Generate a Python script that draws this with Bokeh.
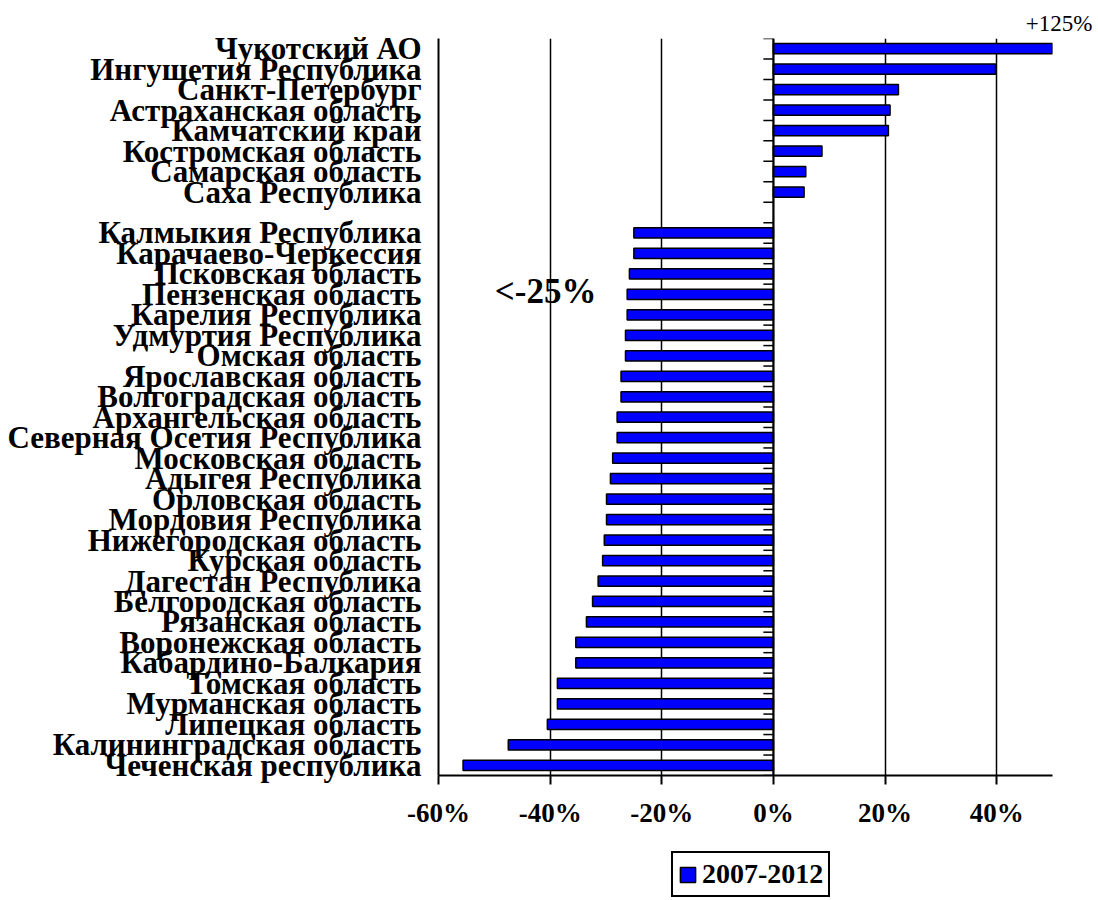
import numpy as np
from bokeh.plotting import figure
from bokeh.layouts import column
from bokeh.models import (ColumnDataSource, FixedTicker, Span, Label, Legend,
                          LegendItem, CustomJSTickFormatter)
from bokeh.embed import file_html
from bokeh.resources import INLINE

# ---------------- data ----------------
regions_up = ["Чукотский АО", "Ингушетия Республика", "Санкт-Петербург",
              "Астраханская область", "Камчатский край", "Костромская область",
              "Самарская область", "Саха Республика"]
values_up = [125.0, 39.8, 22.4, 20.9, 20.6, 8.7, 5.8, 5.5]

regions_down = ["Калмыкия Республика", "Карачаево-Черкессия", "Псковская область",
                "Пензенская область", "Карелия Республика", "Удмуртия Республика",
                "Омская область", "Ярославская область", "Волгоградская область",
                "Архангельская область", "Северная Осетия Республика",
                "Московская область", "Адыгея Республика", "Орловская область",
                "Мордовия Республика", "Нижегородская область", "Курская область",
                "Дагестан Республика", "Белгородская область", "Рязанская область",
                "Воронежская область", "Кабардино-Балкария", "Томская область",
                "Мурманская область", "Липецкая область",
                "Калининградская область", "Чеченская республика"]
values_down = [-25.0, -25.0, -25.8, -26.2, -26.2, -26.5, -26.5, -27.3, -27.3,
               -28.0, -28.0, -28.8, -29.2, -29.9, -29.9, -30.3, -30.6, -31.4,
               -32.4, -33.5, -35.4, -35.4, -38.7, -38.7, -40.5, -47.5, -55.6]

x_ticks = [-60, -40, -20, 0, 20, 40]
series_name = "2007-2012"
top_note = "+125%"
mid_note = "<-25%"

# ---------------- layout of slots (one empty slot between groups) ----------------
names = regions_up + regions_down
vals = values_up + values_down
slots = [i for i in range(len(regions_up))] + \
        [len(regions_up) + 1 + i for i in range(len(regions_down))]
centers = [s + 0.5 for s in slots]
n_slots = len(regions_up) + 1 + len(regions_down)

src = ColumnDataSource(dict(y=centers, v=vals, name=names))

FONT = "Liberation Serif"
BAR_FILL = "#0000FF"
W = 1098

p = figure(width=W, height=845, output_backend="svg", toolbar_location=None,
           x_range=(-60, 50), y_range=(n_slots, 0),
           min_border_left=438, min_border_right=46, min_border_top=38,
           min_border_bottom=70)
p.outline_line_color = None
p.background_fill_color = "white"
p.border_fill_color = "white"

r = p.hbar(y="y", left=0, right="v", height=0.5, source=src,
           fill_color=BAR_FILL, line_color="black", line_width=1.5)

# vertical grid
p.xgrid.ticker = FixedTicker(ticks=x_ticks)
p.xgrid.grid_line_color = "black"
p.xgrid.grid_line_width = 1.5
p.ygrid.grid_line_color = None

# zero line
p.add_layout(Span(location=0, dimension="height", line_color="black", line_width=2))

# small ticks at category boundaries on the zero line
bounds = np.arange(n_slots + 1)
p.segment(x0=[-1.8] * len(bounds), x1=[0] * len(bounds), y0=bounds, y1=bounds,
          line_color="black", line_width=1.5)

# x axis
xa = p.xaxis[0]
xa.ticker = FixedTicker(ticks=x_ticks)
xa.formatter = CustomJSTickFormatter(code="return tick.toFixed(0) + '%';")
xa.major_label_text_font = FONT
xa.major_label_text_font_style = "bold"
xa.major_label_text_font_size = "27px"
xa.major_label_text_color = "black"
xa.major_tick_out = 9
xa.major_tick_in = 0
xa.minor_tick_line_color = None
xa.axis_line_width = 2
xa.axis_line_color = "black"
xa.major_tick_line_color = "black"
xa.major_tick_line_width = 2
xa.major_label_standoff = 13

# y axis with region names
ya = p.yaxis[0]
ya.ticker = FixedTicker(ticks=centers)
ya.major_label_overrides = {c: n for c, n in zip(centers, names)}
ya.major_label_text_font = FONT
ya.major_label_text_font_style = "bold"
ya.major_label_text_font_size = "31px"
ya.major_label_text_color = "black"
ya.major_tick_line_color = None
ya.minor_tick_line_color = None
ya.axis_line_width = 2
ya.axis_line_color = "black"
ya.major_label_standoff = 11

# note above the clipped first bar
p.title.text = top_note
p.title.align = "right"
p.title.offset = -40
p.title.text_font = FONT
p.title.text_font_style = "normal"
p.title.text_font_size = "23px"
p.title.text_color = "black"
p.title.standoff = 6

p.add_layout(Label(x=-40.8, y=12.36, text=mid_note, text_font=FONT,
                   text_font_style="bold", text_font_size="35px",
                   text_align="center", text_baseline="middle", text_color="black"))

# ---------------- legend strip (frame aligned with the main plot) ----------------
lg = figure(width=W, height=53, output_backend="svg", toolbar_location=None,
            x_range=(0, 1), y_range=(0, 1), min_border=0)
lg.outline_line_color = None
lg.axis.visible = False
lg.grid.grid_line_color = None
# zero-size proxy bar that only supplies the legend swatch
dummy = lg.hbar(y=[0], right=[0], left=0, height=0,
                fill_color=BAR_FILL, line_color="black", line_width=1.5)
legend = Legend(items=[LegendItem(label=series_name, renderers=[dummy])],
                location=(233, 1), orientation="horizontal",
                label_text_font=FONT, label_text_font_style="bold",
                label_text_font_size="28px", label_text_color="black",
                label_height=28, label_width=121,
                border_line_color="black", border_line_alpha=1.0,
                border_line_width=2, glyph_width=19, glyph_height=19,
                padding=5, spacing=0, margin=0, label_standoff=5)
lg.add_layout(legend)

layout = column(p, lg, spacing=0)
open("out.html", "w").write(file_html(layout, INLINE))
